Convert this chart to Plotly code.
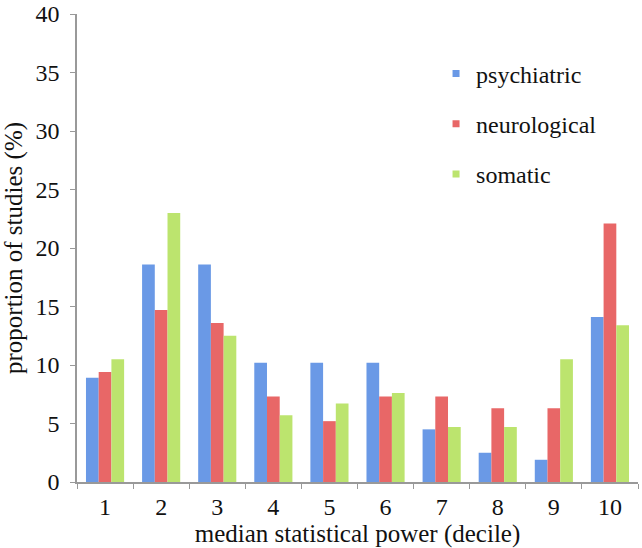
import plotly.graph_objects as go

deciles = ["1", "2", "3", "4", "5", "6", "7", "8", "9", "10"]
psychiatric = [8.9, 18.6, 18.6, 10.2, 10.2, 10.2, 4.5, 2.5, 1.9, 14.1]
neurological = [9.4, 14.7, 13.6, 7.3, 5.2, 7.3, 7.3, 6.3, 6.3, 22.1]
somatic = [10.5, 23.0, 12.5, 5.7, 6.7, 7.6, 4.7, 4.7, 10.5, 13.4]

series = [
    ("psychiatric", psychiatric, "#6a99e6"),
    ("neurological", neurological, "#e86767"),
    ("somatic", somatic, "#bce46e"),
]

FAM = "Liberation Serif, Times New Roman, serif"
tickfont = dict(family=FAM, size=24, color="#111")
titlefont = dict(family=FAM, size=25, color="#111")

fig = go.Figure()
for name, vals, col in series:
    fig.add_trace(go.Bar(
        x=deciles, y=vals, name=name, showlegend=False,
        marker=dict(color=col, line=dict(width=0)),
    ))
# legend entries with small square swatches
for name, vals, col in series:
    fig.add_trace(go.Scatter(
        x=[None], y=[None], name=name, mode="markers", legendgroup=name,
        marker=dict(symbol="square", size=7, color=col), showlegend=True,
    ))

fig.update_layout(
    width=642, height=548,
    margin=dict(l=77, r=4, t=14, b=66),
    paper_bgcolor="white", plot_bgcolor="white",
    font=dict(family=FAM, size=24, color="#111"),
    barmode="group", bargap=0.32, bargroupgap=0,
    showlegend=True,
    legend=dict(x=0.64, y=0.92, xanchor="left", yanchor="top",
                tracegroupgap=16, itemwidth=30,
                font=dict(size=24, family=FAM, color="#111"),
                bgcolor="rgba(0,0,0,0)"),
    xaxis=dict(
        title=dict(text="median statistical power (decile)", standoff=2, font=titlefont),
        showline=True, linecolor="#999", linewidth=1.5,
        ticks="outside", tickson="boundaries", ticklen=5, tickcolor="#999",
        ticklabelstandoff=2,
        showgrid=False, tickfont=tickfont, automargin=False,
    ),
    yaxis=dict(
        title=dict(text="proportion of studies (%)", standoff=10, font=titlefont),
        range=[0, 40], dtick=5,
        showline=True, linecolor="#999", linewidth=1.5,
        ticks="outside", ticklen=5, tickcolor="#999",
        ticksuffix=" ", ticklabeloverflow="allow",
        showgrid=False, zeroline=False, tickfont=tickfont, automargin=False,
    ),
)

fig.write_html("out.html", config={"displayModeBar": False},
               post_script="document.body.style.margin='0';document.body.style.padding='0';")
